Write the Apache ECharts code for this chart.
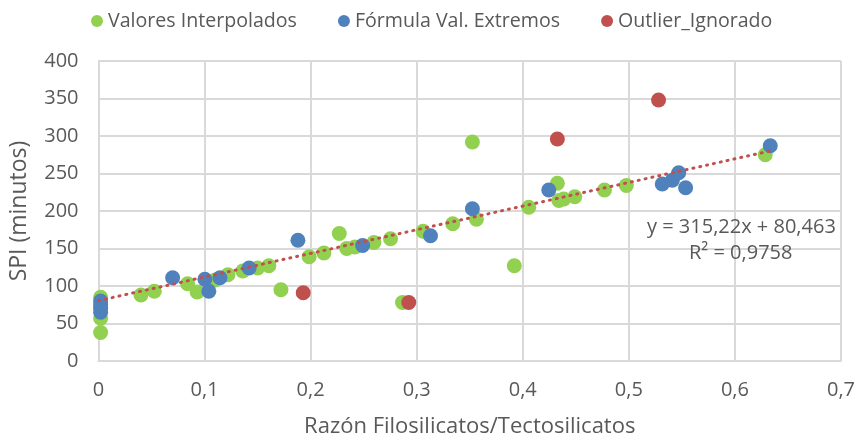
<!DOCTYPE html>
<html>
<head>
<meta charset="utf-8">
<script src="https://cdn.jsdelivr.net/npm/echarts@6/dist/echarts.min.js"></script>
<style>html,body{margin:0;padding:0;background:#fff;}#c{width:856px;height:440px;}</style>
</head>
<body>
<div id="c"></div>
<script>
var seriesNames = ['Valores Interpolados', 'Fórmula Val. Extremos', 'Outlier_Ignorado'];
var xTicks = [0, 0.1, 0.2, 0.3, 0.4, 0.5, 0.6, 0.7];
var yTicks = [0, 50, 100, 150, 200, 250, 300, 350, 400];
var interpolados = [
  [0.002,38],[0.002,57],[0.002,85],
  [0.040,88],[0.0526,93],[0.084,103],[0.093,92],[0.11,108],[0.122,115],[0.136,120],
  [0.150,124],[0.1606,127],[0.172,95],[0.1986,139],[0.2125,144],[0.227,170],[0.234,150],
  [0.2417,152],[0.2596,158],[0.2753,163],[0.2866,78],[0.306,173],[0.334,183],[0.3525,292],
  [0.3563,189],[0.392,127],[0.4056,205],[0.4326,237],[0.434,214],[0.4386,216],[0.449,219],
  [0.477,228],[0.4976,234],[0.6286,275]
];
var extremos = [
  [0.002,65],[0.002,70],[0.002,75],[0.002,80],[0.0699,111],[0.1003,109],[0.104,93],
  [0.1145,111],[0.142,124],[0.188,161],[0.249,154],[0.313,167],[0.3525,203],[0.4245,228],
  [0.5315,236],[0.541,241],[0.547,251],[0.5535,231],[0.6333,287]
];
var outliers = [[0.193,91],[0.2925,78],[0.4326,296],[0.528,348]];
var trendLine = [[0, 80.463], [0.635, 280.6]];
var trendText = ['y = 315,22x + 80,463', 'R² = 0,9758'];

var FONT = '"Open Sans", sans-serif';
var TXT = '#595959';
var GRIDC = '#d9d9d9';
var chart = echarts.init(document.getElementById('c'), null, {renderer: 'canvas'});
function fmt(v){ return String(v).replace('.', ','); }
chart.setOption({
  animation: false,
  textStyle: {fontFamily: FONT},
  legend: {
    top: 6, left: 86,
    itemWidth: 12, itemHeight: 12, itemGap: 41,
    icon: 'circle',
    textStyle: {fontFamily: FONT, fontSize: 19.6, color: TXT},
    data: seriesNames
  },
  grid: {left: 98.5, right: 15, top: 61, bottom: 79, outerBoundsMode: 'none', containLabel: false},
  xAxis: {
    type: 'value', min: 0, max: 0.7, interval: 0.1,
    name: 'Razón Filosilicatos/Tectosilicatos', nameLocation: 'middle', nameGap: 55,
    nameTextStyle: {fontFamily: FONT, fontSize: 22, color: TXT},
    axisLine: {show: true, lineStyle: {color: GRIDC, width: 2}},
    axisTick: {show: false},
    splitLine: {show: true, lineStyle: {color: GRIDC, width: 2}},
    axisLabel: {fontFamily: FONT, fontSize: 20, color: TXT, margin: 19, formatter: fmt}
  },
  yAxis: {
    type: 'value', min: 0, max: 400, interval: 50,
    name: 'SPI (minutos)', nameLocation: 'middle', nameGap: 68,
    nameTextStyle: {fontFamily: FONT, fontSize: 23, color: TXT},
    axisLine: {show: true, lineStyle: {color: GRIDC, width: 2}},
    axisTick: {show: false},
    splitLine: {show: true, lineStyle: {color: GRIDC, width: 2}},
    axisLabel: {fontFamily: FONT, fontSize: 20, color: TXT, margin: 20}
  },
  series: [
    {name: seriesNames[0], type: 'scatter', data: interpolados, symbolSize: 15,
     itemStyle: {color: '#92D050', opacity: 1}, z: 2},
    {name: seriesNames[1], type: 'scatter', data: extremos, symbolSize: 15,
     itemStyle: {color: '#4F81BD', opacity: 1}, z: 3},
    {name: seriesNames[2], type: 'scatter', data: outliers, symbolSize: 15,
     itemStyle: {color: '#C0504D', opacity: 1}, z: 4},
    {name: 'trend', type: 'line', data: trendLine, symbol: 'none', z: 5, silent: true,
     lineStyle: {color: '#C0504D', width: 3, type: [1, 6], cap: 'round'}}
  ],
  graphic: [
    {type: 'text', left: 647, top: 217, z: 10,
     style: {text: trendText[0], fontFamily: FONT, fontSize: 20, fill: TXT}},
    {type: 'text', left: 689, top: 243, z: 10,
     style: {text: trendText[1], fontFamily: FONT, fontSize: 20, fill: TXT}}
  ]
});
</script>
</body>
</html>
